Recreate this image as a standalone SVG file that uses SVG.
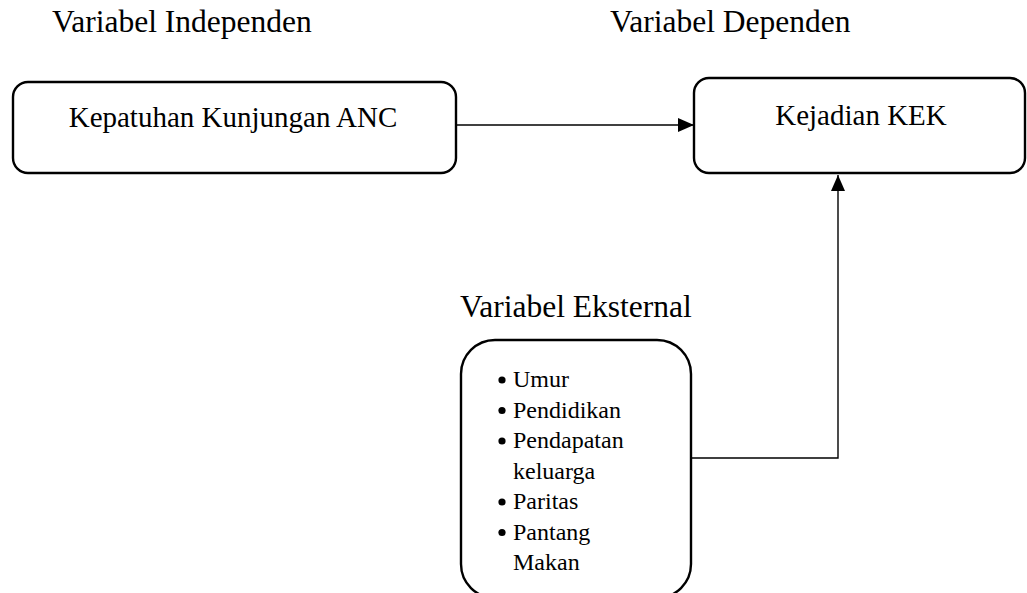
<svg xmlns="http://www.w3.org/2000/svg" width="1027" height="593" viewBox="0 0 1027 593">
<style>
  text { font-family: "Liberation Serif", "Times New Roman", serif; fill: #000; }
  .title { font-size: 31.5px; }
  .box { fill: #fff; stroke: #000; stroke-width: 2.4; }
  .btxt { font-size: 29px; }
  .li { font-size: 24px; }
  .conn { stroke: #000; stroke-width: 1.4; fill: none; }
</style>
<defs>
  <marker id="arrow" viewBox="0 0 16 14" refX="16" refY="7" markerWidth="16" markerHeight="14" markerUnits="userSpaceOnUse" orient="auto">
    <path d="M0,0 L16,7 L0,14 z" fill="#000"/>
  </marker>
</defs>
<text class="title" x="52" y="32">Variabel Independen</text>
<text class="title" x="610" y="32">Variabel Dependen</text>
<text class="title" x="460" y="317">Variabel Eksternal</text>
<g id="connectors">
  <line class="conn" x1="456" y1="125" x2="694" y2="125" marker-end="url(#arrow)"/>
  <polyline class="conn" points="691,458 838,458 838,175" marker-end="url(#arrow)"/>
</g>
<g id="node-anc">
  <rect class="box" x="13" y="82" width="443" height="91" rx="15"/>
  <text class="btxt" x="233" y="127" text-anchor="middle">Kepatuhan Kunjungan ANC</text>
</g>
<g id="node-kek">
  <rect class="box" x="694" y="78" width="331" height="95" rx="15"/>
  <text class="btxt" x="861" y="125" text-anchor="middle">Kejadian KEK</text>
</g>
<g id="node-eksternal">
  <rect class="box" x="461" y="340" width="230" height="258" rx="34"/>
  <g>
    <circle cx="502" cy="380" r="3.6"/>
    <text class="li" x="513" y="387">Umur</text>
    <circle cx="502" cy="410.5" r="3.6"/>
    <text class="li" x="513" y="417.5">Pendidikan</text>
    <circle cx="502" cy="441" r="3.6"/>
    <text class="li" x="513" y="448">Pendapatan</text>
    <text class="li" x="513" y="478.5">keluarga</text>
    <circle cx="502" cy="502" r="3.6"/>
    <text class="li" x="513" y="509">Paritas</text>
    <circle cx="502" cy="532.5" r="3.6"/>
    <text class="li" x="513" y="539.5">Pantang</text>
    <text class="li" x="513" y="570">Makan</text>
  </g>
</g>
</svg>
